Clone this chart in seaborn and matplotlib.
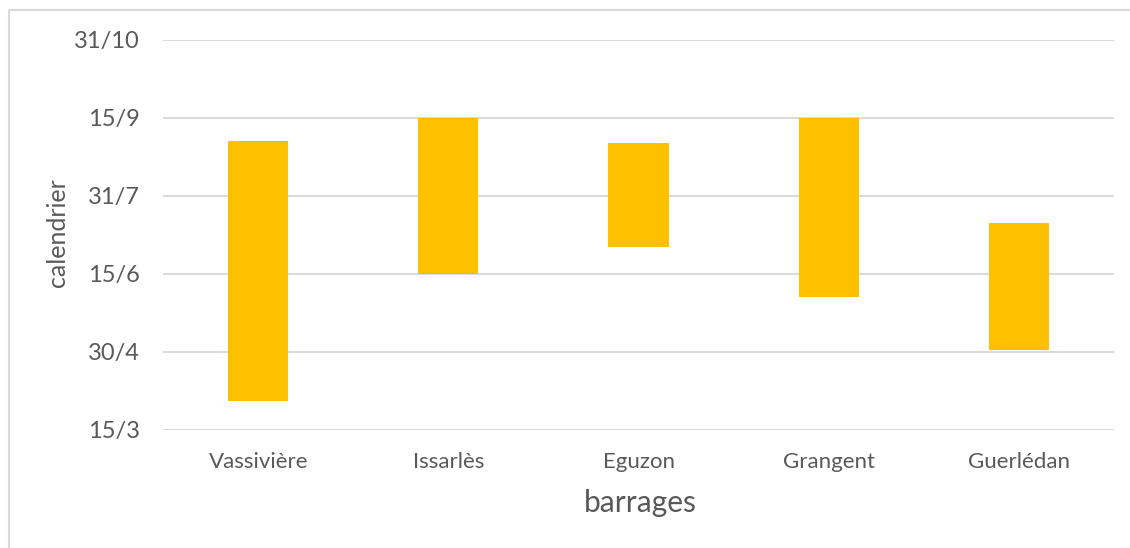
import matplotlib
matplotlib.use("Agg")
import matplotlib.pyplot as plt
import matplotlib.dates as mdates
from matplotlib.lines import Line2D
import seaborn as sns
import pandas as pd
import numpy as np

# ---- data ----
barrages = ["Vassivière", "Issarlès", "Eguzon", "Grangent", "Guerlédan"]
debut = ["01/04", "15/06", "01/07", "01/06", "01/05"]
fin = ["01/09", "15/09", "31/08", "15/09", "15/07"]
ticks = ["15/03", "30/04", "15/06", "31/07", "15/09", "31/10"]
ANNEE = 2021


def to_num(s):
    return mdates.date2num(pd.to_datetime(f"{s}/{ANNEE}", format="%d/%m/%Y"))


start = np.array([to_num(s) for s in debut])
end = np.array([to_num(s) for s in fin])
tick_vals = [to_num(s) for s in ticks]
tick_labels = [f"{int(s.split('/')[0])}/{int(s.split('/')[1])}" for s in ticks]

df = pd.DataFrame({"barrage": barrages, "duree": end - start})

sns.set_theme(style="white")
plt.rcParams["font.family"] = ["Lato", "DejaVu Sans"]
TXT = "#595959"
W, H = 1130, 548

fig = plt.figure(figsize=(W / 100, H / 100), dpi=100)
ax = fig.add_axes([163.3 / W, 1 - 429.7 / H, (1113.7 - 163.3) / W, (429.7 - 39.7) / H])

sns.barplot(data=df, x="barrage", y="duree", order=barrages, bottom=start,
            color="#FFC000", saturation=1, width=0.316, errorbar=None,
            linewidth=0, ax=ax)

ax.set_xlim(-0.5, len(barrages) - 0.5)
ax.set_ylim(tick_vals[0], tick_vals[-1])
ax.set_yticks(tick_vals)
ax.set_yticklabels(tick_labels)
ax.yaxis.grid(True, color="#D9D9D9", linewidth=1.4)
ax.xaxis.grid(False)
ax.set_axisbelow(True)
for sp in ax.spines.values():
    sp.set_visible(False)
ax.tick_params(axis="both", length=0, colors=TXT)
ax.tick_params(axis="y", pad=17, labelsize=17)
ax.tick_params(axis="x", pad=16, labelsize=16)

ax.set_xlabel("barrages", fontsize=21.5, color=TXT, va="center")
ax.xaxis.set_label_coords(640 / W, 1 - 503 / H, transform=fig.transFigure)
ax.set_ylabel("calendrier", fontsize=18, color=TXT, va="center")
ax.yaxis.set_label_coords(58 / W, 1 - 233 / H, transform=fig.transFigure)

# outer chart border (top and left visible)
fig.add_artist(Line2D([9 / W, 9 / W, 1.0], [0.0, 1 - 10 / H, 1 - 10 / H],
                      transform=fig.transFigure, color="#D9D9D9", linewidth=1.5))

fig.savefig("out.png", dpi=100)
